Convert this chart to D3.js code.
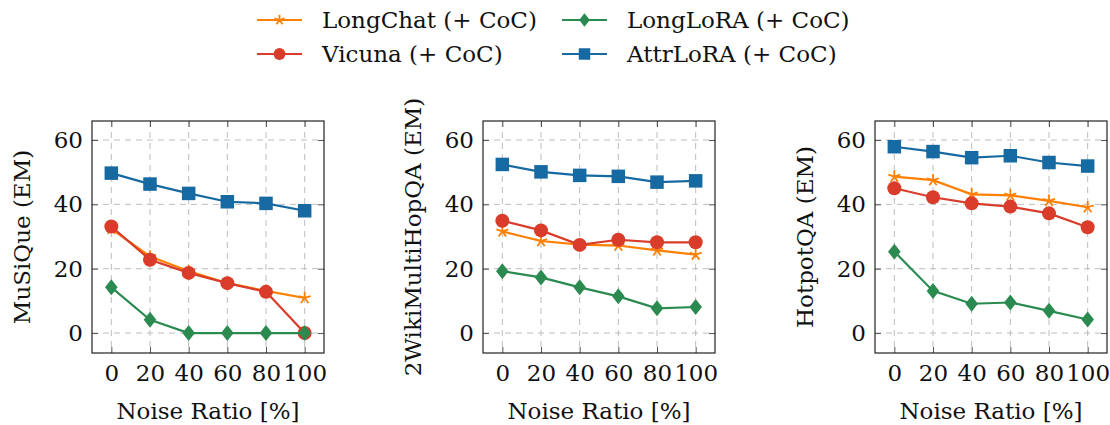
<!DOCTYPE html>
<html>
<head>
<meta charset="utf-8">
<script src="https://cdn.jsdelivr.net/npm/d3@7"></script>
<style>
  body { margin: 0; background: #fff; }
  svg text { font-family: "DejaVu Serif", serif; fill: #111; }
</style>
</head>
<body>
<script>
const noise = [0, 20, 40, 60, 80, 100];
const yTicks = [0, 20, 40, 60];
const datasets = ["MuSiQue (EM)", "2WikiMultiHopQA (EM)", "HotpotQA (EM)"];

const seriesNames = ["LongChat (+ CoC)", "Vicuna (+ CoC)", "LongLoRA (+ CoC)", "AttrLoRA (+ CoC)"];
const colors = ["#ff8000", "#d93c2a", "#2a8a50", "#1769a2"];
const markers = ["star", "circle", "diamond", "square"];

// values per dataset: [LongChat, Vicuna, LongLoRA, AttrLoRA]
const musique = [
  [32.4, 23.8, 19.3, 15.5, 13.1, 10.9],
  [33.1, 22.8, 18.7, 15.5, 12.8, 0],
  [14.2, 4.1, 0, 0, 0, 0],
  [49.7, 46.3, 43.4, 40.8, 40.3, 38.0]
];
const wiki = [
  [31.6, 28.6, 27.5, 27.2, 25.7, 24.4],
  [34.9, 31.9, 27.4, 29.0, 28.2, 28.2],
  [19.2, 17.3, 14.2, 11.4, 7.7, 8.1],
  [52.4, 50.1, 49.0, 48.7, 46.9, 47.3]
];
const hotpot = [
  [48.6, 47.5, 43.1, 42.8, 41.1, 39.1],
  [45.0, 42.2, 40.3, 39.3, 37.2, 32.9],
  [25.3, 13.1, 9.1, 9.5, 6.9, 4.2],
  [57.9, 56.4, 54.5, 55.1, 53.0, 51.9]
];
const allValues = [musique, wiki, hotpot];

const W = 1110, H = 425;
const lefts = [92, 483, 875];
const plotTop = 121, pw = 232, ph = 232;
const fs = 23;

const svg = d3.select("body").append("svg").attr("width", W).attr("height", H);

function drawMarker(g, type, x, y, color, s) {
  if (type === "circle") {
    g.append("circle").attr("cx", x).attr("cy", y).attr("r", 7 * s).attr("fill", color);
  } else if (type === "square") {
    const a = 13.5 * s;
    g.append("rect").attr("x", x - a / 2).attr("y", y - a / 2).attr("width", a).attr("height", a).attr("fill", color);
  } else if (type === "diamond") {
    const w = 6.3 * s, h = 8 * s;
    g.append("path").attr("d", `M${x},${y - h}L${x + w},${y}L${x},${y + h}L${x - w},${y}Z`).attr("fill", color);
  } else if (type === "star") {
    const r = 6.3 * s;
    let d = "";
    for (let k = 0; k < 5; k++) {
      const a = -Math.PI / 2 + k * 2 * Math.PI / 5;
      d += `M${x},${y}L${x + r * Math.cos(a)},${y + r * Math.sin(a)}`;
    }
    g.append("path").attr("d", d).attr("stroke", color).attr("stroke-width", 1.8).attr("fill", "none");
  }
}

datasets.forEach((name, i) => {
  const left = lefts[i];
  const x = d3.scaleLinear().domain([-10, 110]).range([left, left + pw]);
  const y = d3.scaleLinear().domain([-6.2, 65.9]).range([plotTop + ph, plotTop]);
  const g = svg.append("g");

  // grid
  g.selectAll(".gx").data(noise).enter().append("line")
    .attr("x1", d => x(d)).attr("x2", d => x(d))
    .attr("y1", plotTop).attr("y2", plotTop + ph)
    .attr("stroke", "#bdbdbd").attr("stroke-width", 1).attr("stroke-dasharray", "6,5");
  g.selectAll(".gy").data(yTicks).enter().append("line")
    .attr("x1", left).attr("x2", left + pw)
    .attr("y1", d => y(d)).attr("y2", d => y(d))
    .attr("stroke", "#bdbdbd").attr("stroke-width", 1).attr("stroke-dasharray", "6,5");

  // axes with inner ticks on all sides
  const axB = g.append("g").attr("transform", `translate(0,${plotTop + ph})`)
    .call(d3.axisBottom(x).tickValues(noise).tickSize(-6).tickPadding(12));
  const axT = g.append("g").attr("transform", `translate(0,${plotTop})`)
    .call(d3.axisTop(x).tickValues(noise).tickSize(-6).tickFormat(""));
  const axL = g.append("g").attr("transform", `translate(${left},0)`)
    .call(d3.axisLeft(y).tickValues(yTicks).tickSize(-6).tickPadding(9));
  const axR = g.append("g").attr("transform", `translate(${left + pw},0)`)
    .call(d3.axisRight(y).tickValues(yTicks).tickSize(-6).tickFormat(""));
  [axB, axT, axL, axR].forEach(a => {
    a.select(".domain").remove();
    a.selectAll(".tick line").attr("stroke", "#555").attr("stroke-width", 1);
    a.selectAll("text").attr("font-size", fs).attr("font-family", "DejaVu Serif").attr("fill", "#111");
  });
  g.append("rect").attr("x", left).attr("y", plotTop).attr("width", pw).attr("height", ph)
    .attr("fill", "none").attr("stroke", "#222").attr("stroke-width", 1.2);

  // series
  const line = d3.line().x((d, k) => x(noise[k])).y(d => y(d));
  allValues[i].forEach((vals, s) => {
    g.append("path").datum(vals).attr("d", line)
      .attr("fill", "none").attr("stroke", colors[s]).attr("stroke-width", 2.2);
    vals.forEach((v, k) => drawMarker(g, markers[s], x(noise[k]), y(v), colors[s], 1));
  });

  // labels
  g.append("text").attr("transform", `translate(${left - 70},${plotTop + ph / 2}) rotate(-90)`)
    .attr("text-anchor", "middle").attr("dominant-baseline", "central")
    .attr("font-size", fs).text(name);
  g.append("text").attr("x", left + pw / 2).attr("y", 419)
    .attr("text-anchor", "middle").attr("font-size", fs).text("Noise Ratio [%]");
});

// legend
const legX = [257, 562];
const legY = [20, 54];
seriesNames.forEach((n, s) => {
  const col = Math.floor(s / 2), row = s % 2;
  const lx = legX[col], ly = legY[row];
  const g = svg.append("g");
  g.append("line").attr("x1", lx).attr("x2", lx + 45).attr("y1", ly).attr("y2", ly)
    .attr("stroke", colors[s]).attr("stroke-width", 2.2);
  drawMarker(g, markers[s], lx + 22.5, ly, colors[s], 0.85);
  g.append("text").attr("x", lx + 65).attr("y", ly).attr("dominant-baseline", "central")
    .attr("font-size", fs).text(n);
});
</script>
</body>
</html>
